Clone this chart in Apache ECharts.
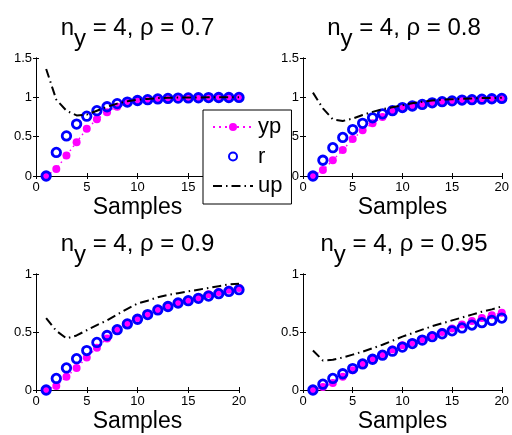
<!DOCTYPE html>
<html><head><meta charset="utf-8">
<script src="https://cdn.jsdelivr.net/npm/echarts@6/dist/echarts.min.js"></script>
<style>html,body{margin:0;padding:0;background:#fff}#c{width:512px;height:435px}</style>
</head><body><div id="c"></div>
<script>
var samples = [1,2,3,4,5,6,7,8,9,10,11,12,13,14,15,16,17,18,19,20];
var titles = ['0.7','0.8','0.9','0.95'];

var yp1 = [0,0.09,0.26,0.43,0.60,0.72,0.81,0.88,0.93,0.96,0.975,0.985,0.99,0.995,0.997,0.998,0.999,1.0,1.0,1.0];
var r1  = [0,0.30,0.51,0.66,0.76,0.83,0.88,0.92,0.94,0.96,0.97,0.98,0.986,0.99,0.993,0.995,0.997,0.998,0.998,0.999];
var up1 = [1.36,0.97,0.83,0.77,0.78,0.83,0.88,0.92,0.95,0.97,0.98,0.99,0.995,0.997,0.998,0.999,1.0,1.0,1.0,1.0];

var yp2 = [0,0.075,0.20,0.33,0.47,0.58,0.67,0.75,0.82,0.87,0.895,0.92,0.935,0.95,0.96,0.97,0.975,0.98,0.985,0.99];
var r2  = [0,0.20,0.36,0.49,0.59,0.67,0.74,0.79,0.83,0.87,0.89,0.91,0.93,0.945,0.955,0.965,0.97,0.977,0.982,0.986];
var up2 = [1.06,0.86,0.72,0.70,0.73,0.775,0.815,0.85,0.875,0.90,0.925,0.945,0.96,0.97,0.975,0.98,0.985,0.99,0.99,0.995];

var yp3 = [0,0.035,0.115,0.19,0.28,0.365,0.445,0.515,0.575,0.62,0.655,0.69,0.72,0.75,0.775,0.80,0.825,0.845,0.865,0.88];
var r3  = [0,0.10,0.19,0.27,0.34,0.41,0.47,0.52,0.57,0.61,0.65,0.69,0.72,0.75,0.77,0.79,0.81,0.83,0.85,0.865];
var up3 = [0.62,0.51,0.445,0.47,0.515,0.56,0.60,0.65,0.70,0.745,0.77,0.80,0.82,0.835,0.85,0.865,0.88,0.895,0.91,0.915];

var yp4 = [0,0.025,0.06,0.115,0.17,0.22,0.27,0.31,0.35,0.385,0.41,0.44,0.47,0.50,0.53,0.565,0.595,0.62,0.645,0.665];
var r4  = [0,0.05,0.10,0.14,0.185,0.225,0.265,0.30,0.335,0.37,0.40,0.43,0.46,0.485,0.51,0.535,0.56,0.58,0.60,0.62];
var up4 = [0.34,0.255,0.26,0.28,0.305,0.33,0.36,0.39,0.425,0.46,0.49,0.52,0.55,0.575,0.60,0.625,0.65,0.675,0.695,0.72];

var panels = [
  {yp: yp1, r: r1, up: up1, ymax: 1.5, grid: {left: 36, top: 58, width: 203, height: 118}, tx: 137.5, ty: 16},
  {yp: yp2, r: r2, up: up2, ymax: 1.5, grid: {left: 303, top: 58, width: 202, height: 118}, tx: 404, ty: 16},
  {yp: yp3, r: r3, up: up3, ymax: 1, grid: {left: 36, top: 274, width: 203, height: 116}, tx: 137.5, ty: 232},
  {yp: yp4, r: r4, up: up4, ymax: 1, grid: {left: 303, top: 274, width: 202, height: 116}, tx: 404, ty: 232}
];

var FONT = 'Liberation Sans, Arial, Helvetica, sans-serif';
function pairs(arr){ return samples.map(function(x,i){ return [x, arr[i]]; }); }

var grid = [], xAxis = [], yAxis = [], series = [], title = [];
panels.forEach(function(p, k){
  grid.push(p.grid);
  var xi = xAxis.length, yi = yAxis.length;
  var lineS = {show: true, lineStyle: {color: '#000', width: 1}};
  var tickS = {show: true, inside: true, length: 3, lineStyle: {color: '#000', width: 1}};
  xAxis.push({type: 'value', gridIndex: k, min: 0, max: 20, interval: 5, position: 'bottom',
    axisLine: lineS, axisTick: tickS, splitLine: {show: false},
    axisLabel: {color: '#000', fontSize: 13, fontFamily: FONT, margin: 5},
    name: 'Samples', nameLocation: 'middle', nameGap: 20,
    nameTextStyle: {color: '#000', fontSize: 23, fontFamily: FONT}});
  xAxis.push({type: 'value', gridIndex: k, min: 0, max: 20, interval: 5, position: 'top',
    axisLine: lineS, axisTick: tickS, splitLine: {show: false}, axisLabel: {show: false}});
  yAxis.push({type: 'value', gridIndex: k, min: 0, max: p.ymax, interval: 0.5, position: 'left',
    axisLine: lineS, axisTick: tickS, splitLine: {show: false},
    axisLabel: {color: '#000', fontSize: 13, fontFamily: FONT, margin: 4}});
  yAxis.push({type: 'value', gridIndex: k, min: 0, max: p.ymax, interval: 0.5, position: 'right',
    axisLine: lineS, axisTick: tickS, splitLine: {show: false}, axisLabel: {show: false}});
  series.push({name: 'yp', type: 'line', xAxisIndex: xi, yAxisIndex: yi, data: pairs(p.yp),
    symbol: 'circle', symbolSize: 8, itemStyle: {color: '#ff00ff'},
    lineStyle: {color: '#ff00ff', width: 1.5, type: [1.5, 3.5]}, silent: true, z: 2});
  series.push({name: 'r', type: 'line', xAxisIndex: xi, yAxisIndex: yi, data: pairs(p.r),
    symbol: 'circle', symbolSize: 8.5, itemStyle: {color: 'rgba(255,255,255,0)', borderColor: '#0000ff', borderWidth: 2.8},
    lineStyle: {width: 0, opacity: 0}, silent: true, z: 3});
  series.push({name: 'up', type: 'line', xAxisIndex: xi, yAxisIndex: yi, data: pairs(p.up),
    symbol: 'none', itemStyle: {color: '#000'},
    lineStyle: {color: '#000', width: 2, type: [9, 4, 1.5, 4]}, silent: true, z: 4});
  title.push({left: p.tx, top: p.ty, textAlign: 'center', padding: 0,
    text: '{a|n}{s|y}{a| = 4, ρ = ' + titles[k] + '}',
    textStyle: {fontWeight: 'normal', rich: {
      a: {fontSize: 24, fontFamily: FONT, fontWeight: 'normal', color: '#000', verticalAlign: 'top'},
      s: {fontSize: 24, fontFamily: FONT, fontWeight: 'normal', color: '#000', verticalAlign: 'top', padding: [11, 0, 0, 0]}
    }}});
});

var chart = echarts.init(document.getElementById('c'), null, {renderer: 'canvas'});
chart.setOption({
  animation: false,
  backgroundColor: '#fff',
  title: title,
  grid: grid, xAxis: xAxis, yAxis: yAxis, series: series,
  legend: {
    data: [
      {name: 'yp', lineStyle: {color: '#ff00ff', width: 2, type: [2, 4]}},
      {name: 'r'},
      {name: 'up', itemStyle: {opacity: 0}}
    ],
    orient: 'vertical', left: 203, top: 110,
    backgroundColor: '#fff', borderColor: '#000', borderWidth: 1, borderRadius: 0,
    padding: [6, 9, 7, 9], itemWidth: 40, itemHeight: 10, itemGap: 7.5,
    textStyle: {fontSize: 22, fontFamily: FONT, color: '#000', lineHeight: 22},
    selectedMode: false, z: 10
  }
});
</script></body></html>
